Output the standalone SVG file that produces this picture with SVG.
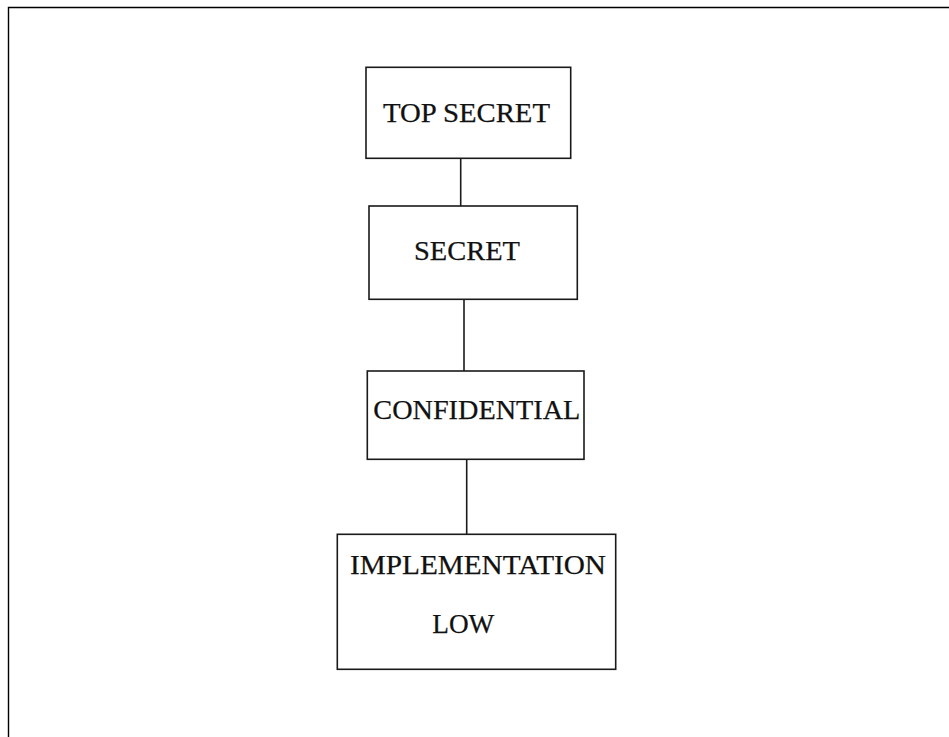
<svg xmlns="http://www.w3.org/2000/svg" width="949" height="737" viewBox="0 0 949 737">
<style>
.box{fill:#fff;stroke:#1a1a1a;stroke-width:1.6}
.lbl{font-family:"Liberation Serif","Times New Roman",serif;font-size:28px;fill:#111;stroke:#111;stroke-width:0.25}
.con{stroke:#1a1a1a;stroke-width:1.6;fill:none}
.frame{stroke:#000;stroke-width:1.4;fill:none}
</style>
<rect width="949" height="737" fill="#fff"/>
<path class="frame" d="M8.5,740 V7.5 H952"/>
<g id="connectors">
<line class="con" x1="460.7" y1="158.3" x2="460.7" y2="206"/>
<line class="con" x1="464" y1="299.3" x2="464" y2="371"/>
<line class="con" x1="466.7" y1="459.3" x2="466.7" y2="534.3"/>
</g>
<g id="top-secret">
<rect class="box" x="366" y="67.3" width="204.7" height="91"/>
<text class="lbl" x="383" y="121.7" textLength="167" lengthAdjust="spacingAndGlyphs">TOP SECRET</text>
</g>
<g id="secret">
<rect class="box" x="369" y="206" width="208.3" height="93.3"/>
<text class="lbl" x="414" y="260" textLength="106" lengthAdjust="spacingAndGlyphs">SECRET</text>
</g>
<g id="confidential">
<rect class="box" x="367.3" y="371" width="216.7" height="88.3"/>
<text class="lbl" x="373.3" y="419" textLength="207" lengthAdjust="spacingAndGlyphs">CONFIDENTIAL</text>
</g>
<g id="implementation-low">
<rect class="box" x="337.3" y="534.3" width="278.4" height="135"/>
<text class="lbl" x="350" y="574" textLength="256" lengthAdjust="spacingAndGlyphs">IMPLEMENTATION</text>
<text class="lbl" x="432.3" y="632.7" textLength="62" lengthAdjust="spacingAndGlyphs">LOW</text>
</g>
</svg>
